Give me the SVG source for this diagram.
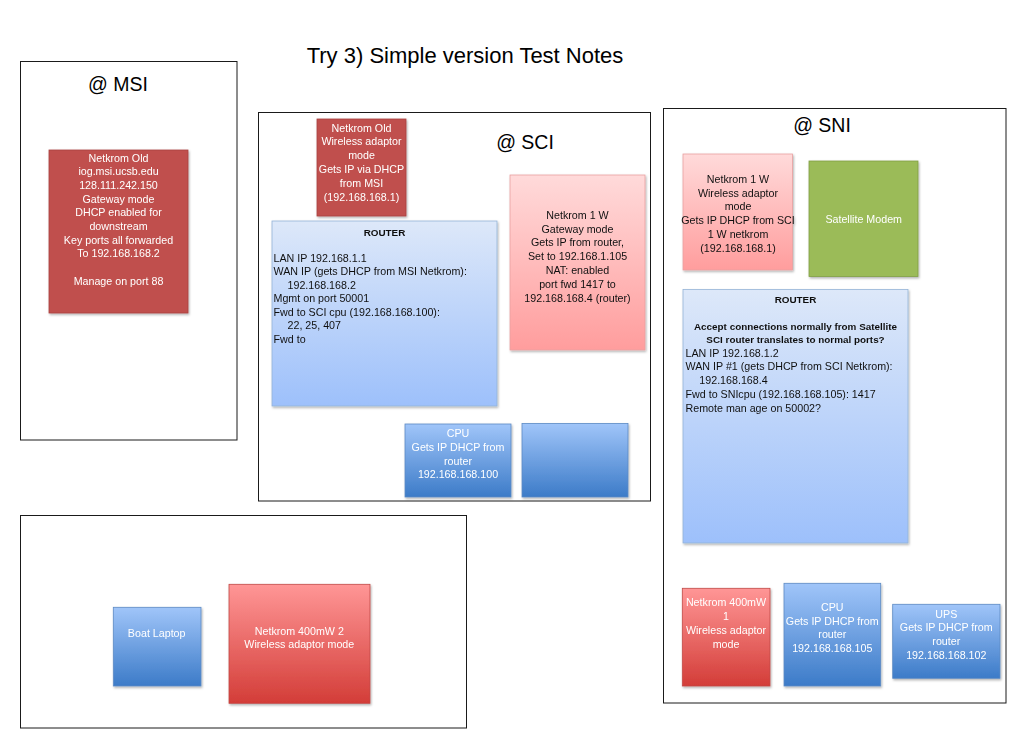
<svg xmlns="http://www.w3.org/2000/svg" width="1024" height="737" viewBox="0 0 1024 737">
<defs>
<style>
text{font-family:"Liberation Sans",Arial,sans-serif;font-size:10.7px}
.w{fill:#ffffff}
.k{fill:#111111}
.c{text-anchor:middle}
.b{font-weight:bold}
.bs{font-size:9.9px}
.frame{fill:#ffffff;stroke:#1a1a1a;stroke-width:1}
.h{font-size:19.5px;fill:#000;text-anchor:middle}
.nd{filter:url(#sh)}
</style>
<filter id="sh" x="-10%" y="-10%" width="130%" height="130%">
<feDropShadow dx="1" dy="1.5" stdDeviation="1" flood-color="#000" flood-opacity="0.3"/>
</filter>
<linearGradient id="gBlue" x1="0" y1="0" x2="0" y2="1">
<stop offset="0" stop-color="#a0c5f9"/><stop offset="1" stop-color="#3c7bc8"/>
</linearGradient>
<linearGradient id="gLight" x1="0" y1="0" x2="0" y2="1">
<stop offset="0" stop-color="#dde8f9"/><stop offset="1" stop-color="#9dc0fb"/>
</linearGradient>
<linearGradient id="gPink" x1="0" y1="0" x2="0" y2="1">
<stop offset="0" stop-color="#ffdada"/><stop offset="1" stop-color="#ff9d9d"/>
</linearGradient>
<linearGradient id="gRed" x1="0" y1="0" x2="0" y2="1">
<stop offset="0" stop-color="#ff9696"/><stop offset="1" stop-color="#d33d38"/>
</linearGradient>
</defs>
<rect width="1024" height="737" fill="#ffffff"/>
<text x="465" y="63" style="font-size:22px;fill:#000;text-anchor:middle">Try 3) Simple version Test Notes</text>

<g id="msi">
<rect class="frame" x="20.5" y="61.5" width="216.5" height="378.5"/>
<text x="118" y="91" class="h">@ MSI</text>
</g>
<g id="msi-netkrom-old" class="nd">
<rect x="49" y="150" width="139" height="163" fill="#c0504d" stroke="#a8423f" stroke-width="0.8"/>
<text class="w c" x="118.5"><tspan x="118.5" y="161.5">Netkrom Old</tspan><tspan x="118.5" y="175.2">iog.msi.ucsb.edu</tspan><tspan x="118.5" y="188.8">128.111.242.150</tspan><tspan x="118.5" y="202.5">Gateway mode</tspan><tspan x="118.5" y="216.2">DHCP enabled for</tspan><tspan x="118.5" y="229.8">downstream</tspan><tspan x="118.5" y="243.5">Key ports all forwarded</tspan><tspan x="118.5" y="257.1">To 192.168.168.2</tspan><tspan x="118.5" y="284.5">Manage on port 88</tspan></text>
</g>

<g id="sci">
<rect class="frame" x="258.5" y="112.5" width="392" height="388.5"/>
<text x="525" y="148.5" class="h">@ SCI</text>
</g>
<g id="sci-netkrom-old" class="nd">
<rect x="317" y="119" width="89" height="97" fill="#c0504d" stroke="#a8423f" stroke-width="0.8"/>
<text class="w c"><tspan x="361.5" y="131.5">Netkrom Old</tspan><tspan x="361.5" y="145.3">Wireless adaptor</tspan><tspan x="361.5" y="159.1">mode</tspan><tspan x="361.5" y="172.9">Gets IP via DHCP</tspan><tspan x="361.5" y="186.7">from MSI</tspan><tspan x="361.5" y="200.5">(192.168.168.1)</tspan></text>
</g>
<g id="sci-router" class="nd">
<rect x="272" y="221" width="225" height="185" fill="url(#gLight)" stroke="#95b3d7" stroke-width="0.8"/>
<text class="k c b bs" x="384.5" y="235.5">ROUTER</text>
<text class="k"><tspan x="273.5" y="261.5">LAN IP 192.168.1.1</tspan><tspan x="273.5" y="275">WAN IP (gets DHCP from MSI Netkrom):</tspan><tspan x="287.5" y="288.6">192.168.168.2</tspan><tspan x="273.5" y="302.2">Mgmt on port 50001</tspan><tspan x="273.5" y="315.7">Fwd to SCI cpu (192.168.168.100):</tspan><tspan x="287.5" y="329.3">22, 25, 407</tspan><tspan x="273.5" y="342.8">Fwd to</tspan></text>
</g>
<g id="sci-netkrom-1w" class="nd">
<rect x="510" y="175" width="135" height="175" fill="url(#gPink)" stroke="#e8a0a0" stroke-width="0.8"/>
<text class="k c"><tspan x="577.5" y="218.8">Netkrom 1 W</tspan><tspan x="577.5" y="232.6">Gateway mode</tspan><tspan x="577.5" y="246.4">Gets IP from router,</tspan><tspan x="577.5" y="260.1">Set to 192.168.1.105</tspan><tspan x="577.5" y="273.9">NAT: enabled</tspan><tspan x="577.5" y="287.7">port fwd 1417 to</tspan><tspan x="577.5" y="301.5">192.168.168.4 (router)</tspan></text>
</g>
<g id="sci-cpu" class="nd">
<rect x="405" y="424" width="106" height="73" fill="url(#gBlue)" stroke="#5d8bc4" stroke-width="0.8"/>
<text class="w c"><tspan x="458" y="437">CPU</tspan><tspan x="458" y="451">Gets IP DHCP from</tspan><tspan x="458" y="464.7">router</tspan><tspan x="458" y="478">192.168.168.100</tspan></text>
</g>
<g id="sci-blank" class="nd">
<rect x="522" y="423.5" width="106" height="73.5" fill="url(#gBlue)" stroke="#5d8bc4" stroke-width="0.8"/>
</g>

<g id="sni">
<rect class="frame" x="663.5" y="108.5" width="342.5" height="594.5"/>
<text x="822" y="132" class="h">@ SNI</text>
</g>
<g id="sni-netkrom-1w" class="nd">
<rect x="683" y="154" width="109.5" height="116" fill="url(#gPink)" stroke="#e8a0a0" stroke-width="0.8"/>
<text class="k c"><tspan x="738" y="182.8">Netkrom 1 W</tspan><tspan x="738" y="196.6">Wireless adaptor</tspan><tspan x="738" y="210.3">mode</tspan><tspan x="738" y="224">Gets IP DHCP from SCI</tspan><tspan x="738" y="237.8">1 W netkrom</tspan><tspan x="738" y="251.5">(192.168.168.1)</tspan></text>
</g>
<g id="sni-satellite-modem" class="nd">
<rect x="809" y="161" width="109" height="115.5" fill="#9bbb59" stroke="#7f9e44" stroke-width="0.8"/>
<text class="w c" x="863.7" y="223">Satellite Modem</text>
</g>
<g id="sni-router" class="nd">
<rect x="683" y="289.5" width="225" height="253.5" fill="url(#gLight)" stroke="#95b3d7" stroke-width="0.8"/>
<text class="k c b bs" x="795.5" y="302.8">ROUTER</text>
<text class="k c b bs"><tspan x="795.5" y="329.8">Accept connections normally from Satellite</tspan><tspan x="795.5" y="343.2">SCI router translates to normal ports?</tspan></text>
<text class="k"><tspan x="685.5" y="356.5">LAN IP 192.168.1.2</tspan><tspan x="685.5" y="370.4">WAN IP #1 (gets DHCP from SCI Netkrom):</tspan><tspan x="699.3" y="384.3">192.168.168.4</tspan><tspan x="685.5" y="398.2">Fwd to SNIcpu (192.168.168.105): 1417</tspan><tspan x="685.5" y="412.1">Remote man age on 50002?</tspan></text>
</g>
<g id="sni-netkrom-400mw-1" class="nd">
<rect x="682.3" y="588.3" width="87.7" height="97.7" fill="url(#gRed)" stroke="#c04a47" stroke-width="0.8"/>
<text class="w c"><tspan x="726" y="605.5">Netkrom 400mW</tspan><tspan x="726" y="619.8">1</tspan><tspan x="726" y="634">Wireless adaptor</tspan><tspan x="726" y="647.8">mode</tspan></text>
</g>
<g id="sni-cpu" class="nd">
<rect x="784" y="583.3" width="96.7" height="102.7" fill="url(#gBlue)" stroke="#5d8bc4" stroke-width="0.8"/>
<text class="w c"><tspan x="832.3" y="611">CPU</tspan><tspan x="832.3" y="624.7">Gets IP DHCP from</tspan><tspan x="832.3" y="638.2">router</tspan><tspan x="832.3" y="652">192.168.168.105</tspan></text>
</g>
<g id="sni-ups" class="nd">
<rect x="892.7" y="604.3" width="107.3" height="74" fill="url(#gBlue)" stroke="#5d8bc4" stroke-width="0.8"/>
<text class="w c"><tspan x="946.3" y="617.7">UPS</tspan><tspan x="946.3" y="631.2">Gets IP DHCP from</tspan><tspan x="946.3" y="644.8">router</tspan><tspan x="946.3" y="658.5">192.168.168.102</tspan></text>
</g>

<g id="boat">
<rect class="frame" x="20.5" y="515.5" width="446" height="212.5"/>
</g>
<g id="boat-laptop" class="nd">
<rect x="113.3" y="607.3" width="87.7" height="78.7" fill="url(#gBlue)" stroke="#5d8bc4" stroke-width="0.8"/>
<text class="w c" x="156.7" y="637">Boat Laptop</text>
</g>
<g id="boat-netkrom-400mw-2" class="nd">
<rect x="229" y="584.3" width="141" height="119" fill="url(#gRed)" stroke="#c04a47" stroke-width="0.8"/>
<text class="w c"><tspan x="299.3" y="634.5">Netkrom 400mW 2</tspan><tspan x="299.3" y="647.5">Wireless adaptor mode</tspan></text>
</g>
<g id="connectors"></g>
</svg>
